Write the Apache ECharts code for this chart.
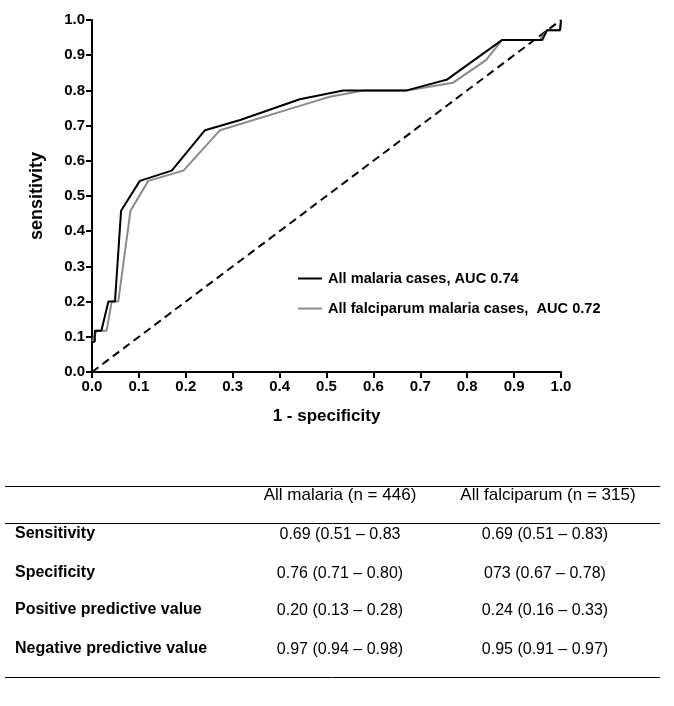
<!DOCTYPE html>
<html>
<head>
<meta charset="utf-8">
<script src="https://cdn.jsdelivr.net/npm/echarts@6/dist/echarts.min.js"></script>
<style>
html,body{margin:0;padding:0;background:#fff;}
#main{width:674px;height:706px;}
</style>
</head>
<body>
<div id="main"></div>
<script>
// ROC curve data (1 - specificity, sensitivity)
const malariaFpr = [0, 0, 0.006, 0.006, 0.02, 0.035, 0.049, 0.062, 0.102, 0.17, 0.241, 0.316, 0.443, 0.536, 0.579, 0.671, 0.756, 0.874, 0.96, 0.97, 0.998, 1.0];
const malariaTpr = [0, 0.086, 0.086, 0.117, 0.117, 0.2, 0.2, 0.458, 0.543, 0.572, 0.687, 0.716, 0.775, 0.8, 0.8, 0.8, 0.83, 0.943, 0.943, 0.971, 0.971, 1.0];
const falcFpr = [0, 0, 0.01, 0.031, 0.042, 0.056, 0.082, 0.12, 0.195, 0.273, 0.443, 0.507, 0.579, 0.671, 0.77, 0.84, 0.874, 0.955, 0.97, 0.998, 1.0];
const falcTpr = [0, 0.086, 0.117, 0.117, 0.2, 0.2, 0.458, 0.543, 0.572, 0.687, 0.756, 0.782, 0.8, 0.8, 0.822, 0.886, 0.943, 0.943, 0.971, 0.971, 1.0];
const refX = [0, 1];
const refY = [0, 1];
const seriesNames = ['All malaria cases, AUC 0.74', 'All falciparum malaria cases,  AUC 0.72'];

// Table
const tableHeaders = ['All malaria (n = 446)', 'All falciparum (n = 315)'];
const rowLabels = ['Sensitivity', 'Specificity', 'Positive predictive value', 'Negative predictive value'];
const malariaValues = ['0.69 (0.51 \u2013 0.83', '0.76 (0.71 \u2013 0.80)', '0.20 (0.13 \u2013 0.28)', '0.97 (0.94 \u2013 0.98)'];
const falciparumValues = ['0.69 (0.51 \u2013 0.83)', '073 (0.67 \u2013 0.78)', '0.24 (0.16 \u2013 0.33)', '0.95 (0.91 \u2013 0.97)'];

const FONT = '"Liberation Sans", Arial, sans-serif';
const zip = (a, b) => a.map((v, i) => [v, b[i]]);

const graphics = [];
const tableLinesY = [486.5, 523.5, 677.5];
tableLinesY.forEach(y => graphics.push({
  type: 'line', shape: {x1: 5, y1: y, x2: 660, y2: y},
  style: {stroke: '#000', lineWidth: 1}
}));
const colCenters = [340, 548];
tableHeaders.forEach((t, i) => graphics.push({
  type: 'text', x: colCenters[i], y: 495,
  style: {text: t, font: '17px ' + FONT, fill: '#000', textAlign: 'center', textVerticalAlign: 'middle'}
}));
const rowYs = [534, 573, 610, 649];
rowLabels.forEach((t, i) => {
  graphics.push({type: 'text', x: 15, y: rowYs[i],
    style: {text: t, font: 'bold 16px ' + FONT, fill: '#000', textAlign: 'left', textVerticalAlign: 'middle'}});
  graphics.push({type: 'text', x: colCenters[0], y: rowYs[i] + 1,
    style: {text: malariaValues[i], font: '16px ' + FONT, fill: '#000', textAlign: 'center', textVerticalAlign: 'middle'}});
  graphics.push({type: 'text', x: colCenters[1] - 3, y: rowYs[i] + 1,
    style: {text: falciparumValues[i], font: '16px ' + FONT, fill: '#000', textAlign: 'center', textVerticalAlign: 'middle'}});
});

const chart = echarts.init(document.getElementById('main'), null, {renderer: 'canvas'});
chart.setOption({
  animation: false,
  backgroundColor: '#fff',
  grid: {left: 92, right: 113, top: 20, bottom: 334, containLabel: false},
  xAxis: {
    type: 'value', min: 0, max: 1, interval: 0.1,
    name: '1 - specificity', nameLocation: 'middle', nameGap: 36,
    nameTextStyle: {fontFamily: FONT, fontWeight: 'bold', fontSize: 17, color: '#000'},
    axisLine: {show: true, onZero: false, lineStyle: {color: '#000', width: 2}},
    axisTick: {show: true, inside: false, length: 6, lineStyle: {color: '#000', width: 2}},
    axisLabel: {fontFamily: FONT, fontWeight: 'bold', fontSize: 15, color: '#000', margin: 7,
      formatter: v => v.toFixed(1)},
    splitLine: {show: false}
  },
  yAxis: {
    type: 'value', min: 0, max: 1, interval: 0.1,
    name: 'sensitivity', nameLocation: 'middle', nameGap: 46, nameRotate: 90,
    nameTextStyle: {fontFamily: FONT, fontWeight: 'bold', fontSize: 18, color: '#000'},
    axisLine: {show: true, onZero: false, lineStyle: {color: '#000', width: 2}},
    axisTick: {show: true, inside: false, length: 6, lineStyle: {color: '#000', width: 2}},
    axisLabel: {fontFamily: FONT, fontWeight: 'bold', fontSize: 15, color: '#000', margin: 7,
      formatter: v => v.toFixed(1)},
    splitLine: {show: false}
  },
  legend: {
    orient: 'vertical', left: 293, top: 266, itemGap: 15,
    itemWidth: 24, itemHeight: 2, icon: 'rect',
    textStyle: {fontFamily: FONT, fontWeight: 'bold', fontSize: 14.6, color: '#000', padding: [0, 0, 0, 1]},
    data: seriesNames
  },
  series: [
    {type: 'line', name: 'ref', data: zip(refX, refY), showSymbol: false, silent: true,
      lineStyle: {color: '#000', width: 2, type: [8, 5]}, z: 1},
    {type: 'line', name: seriesNames[1], data: zip(falcFpr, falcTpr), showSymbol: false,
      color: '#8a8a8a', lineStyle: {color: '#8a8a8a', width: 2}, z: 2},
    {type: 'line', name: seriesNames[0], data: zip(malariaFpr, malariaTpr), showSymbol: false,
      color: '#000', lineStyle: {color: '#000', width: 2}, z: 3}
  ],
  graphic: graphics
});
</script>
</body>
</html>
